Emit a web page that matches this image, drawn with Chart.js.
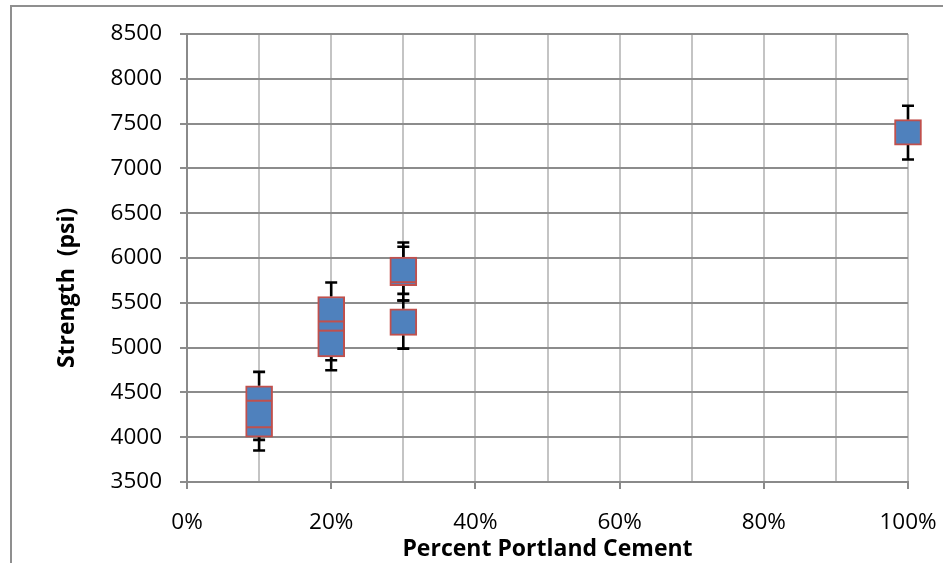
<!DOCTYPE html>
<html>
<head>
<meta charset="utf-8">
<script src="https://cdn.jsdelivr.net/npm/chart.js@4.4.1/dist/chart.umd.min.js"></script>
<style>
  html, body { margin: 0; padding: 0; background: #fff; overflow: hidden; }
  #wrap { position: relative; width: 943px; height: 563px; overflow: hidden; }
  #frame { position: absolute; left: 10px; top: 5px; width: 1000px; height: 700px; border: 2px solid #8f8f8f; }
  canvas { position: absolute; left: 0; top: 0; }
</style>
</head>
<body>
<div id="wrap">
  <div id="frame"></div>
  <canvas id="chart" width="943" height="563"></canvas>
</div>
<script>
// boxes (first to third quartile), one per group
const boxPct  = [10, 20, 30, 30, 100];
const boxLow  = [4000, 4896, 5690, 5137, 7260];
const boxHigh = [4573, 5570, 6010, 5433, 7544];

// red lines drawn inside the boxes
const linePct = [10, 10, 20, 20, 30];
const lineVal = [4111, 4407, 5189, 5292, 5730];

// whiskers: from box edge to cap
const whiskerPct  = [10, 10, 10, 20, 20, 20, 30, 30, 30, 30, 30, 30, 100, 100];
const whiskerFrom = [4573, 4000, 4000, 5570, 4896, 4896, 6010, 6010, 5690, 5690, 5433, 5137, 7544, 7260];
const whiskerTo   = [4729, 3970, 3851, 5726, 4859, 4748, 6126, 6173, 5600, 5526, 5526, 4989, 7700, 7100];

const xTicksStep = 10;
const yMin = 3500, yMax = 8500, yStep = 500;

const boxPlotLines = {
    id: 'boxPlotLines',
    beforeDatasetsDraw(chart) {
        const { ctx, scales: { x, y } } = chart;
        ctx.save();
        ctx.strokeStyle = '#000';
        ctx.lineWidth = 2.6;
        whiskerPct.forEach((p, i) => {
            const px = x.getPixelForValue(p);
            const y0 = y.getPixelForValue(whiskerFrom[i]);
            const y1 = y.getPixelForValue(whiskerTo[i]);
            ctx.beginPath();
            ctx.moveTo(px, y0);
            ctx.lineTo(px, y1);
            ctx.moveTo(px - 6, y1);
            ctx.lineTo(px + 6, y1);
            ctx.stroke();
        });
        ctx.restore();
    },
    afterDatasetsDraw(chart) {
        const { ctx, scales: { x, y } } = chart;
        ctx.save();
        ctx.strokeStyle = '#C0504D';
        ctx.lineWidth = 2;
        linePct.forEach((p, i) => {
            const px = x.getPixelForValue(p);
            const py = y.getPixelForValue(lineVal[i]);
            ctx.beginPath();
            ctx.moveTo(px - 13, py);
            ctx.lineTo(px + 13, py);
            ctx.stroke();
        });
        ctx.restore();
    }
};

const tickFont = { family: 'Open Sans', size: 22.5 };
const titleFont = { family: 'Open Sans', size: 23, weight: 'bold' };

new Chart(document.getElementById('chart').getContext('2d'), {
    type: 'bar',
    data: {
        datasets: [{
            data: boxPct.map((p, i) => ({ x: p, y: [boxLow[i], boxHigh[i]] })),
            backgroundColor: '#4F81BD',
            borderColor: '#C0504D',
            borderWidth: 2,
            borderSkipped: false,
            barThickness: 27,
            clip: false
        }]
    },
    options: {
        responsive: false,
        animation: false,
        layout: { padding: { left: 54, right: 35, top: 34, bottom: 0 } },
        plugins: {
            legend: { display: false },
            tooltip: { enabled: false }
        },
        scales: {
            x: {
                type: 'linear',
                min: 0,
                max: 100,
                offset: false,
                ticks: {
                    stepSize: xTicksStep,
                    autoSkip: false,
                    maxRotation: 0,
                    padding: 20,
                    color: '#000',
                    font: tickFont,
                    callback: v => (v % 20 === 0 ? v + '%' : '')
                },
                grid: {
                    color: '#c4c4c4',
                    lineWidth: 2,
                    tickLength: 7,
                    offset: false,
                    tickColor: ctx => (ctx.tick && ctx.tick.value % 20 === 0 ? '#8a8a8a' : 'rgba(0,0,0,0)')
                },
                border: { color: '#8a8a8a', width: 2 },
                title: {
                    display: true,
                    text: 'Percent Portland Cement',
                    color: '#000',
                    font: titleFont,
                    padding: { top: 0, bottom: 0 }
                },
                afterFit: s => {
                    s.height = 81;
                    s.paddingLeft = 0;
                    s.paddingRight = 30;
                }
            },
            y: {
                min: yMin,
                max: yMax,
                ticks: {
                    stepSize: yStep,
                    padding: 18,
                    color: '#000',
                    font: tickFont,
                    callback: v => String(v)
                },
                grid: {
                    color: '#8c8c8c',
                    lineWidth: 2,
                    tickLength: 7
                },
                border: { color: '#8a8a8a', width: 2 },
                title: {
                    display: true,
                    text: 'Strength  (psi)          ',
                    color: '#000',
                    font: titleFont,
                    padding: { top: 0, bottom: 0 }
                },
                afterFit: s => { s.width = 133; }
            }
        }
    },
    plugins: [boxPlotLines]
});
</script>
</body>
</html>
